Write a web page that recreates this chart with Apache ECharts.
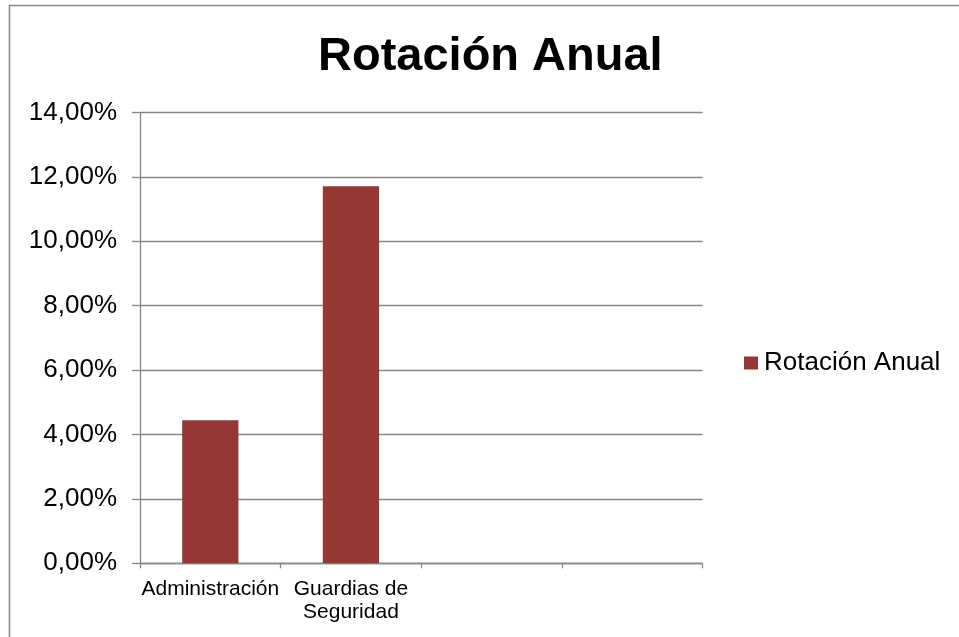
<!DOCTYPE html>
<html>
<head>
<meta charset="utf-8">
<script src="https://cdn.jsdelivr.net/npm/echarts@6/dist/echarts.min.js"></script>
<style>
  html, body { margin: 0; padding: 0; background: #ffffff; }
  #chart { width: 959px; height: 637px; }
</style>
</head>
<body>
<div id="chart"></div>
<script>
// Annual turnover by staff group (percent)
const categories = ['Administración', 'Guardias de\nSeguridad', '', ''];
const rotacionAnual = [4.44, 11.71, null, null];
const seriesName = 'Rotación Anual';
const chartTitle = 'Rotación Anual';

const FONT = '"Liberation Sans", Arial, sans-serif';
const AXIS_GRAY = '#868686';

const chart = echarts.init(document.getElementById('chart'), null, { renderer: 'canvas' });

chart.setOption({
  backgroundColor: '#ffffff',
  animation: false,
  title: {
    text: chartTitle,
    left: 318,
    top: 34,
    padding: 0,
    textStyle: { fontFamily: FONT, fontSize: 47, fontWeight: 'bold', color: '#000000' }
  },
  legend: {
    left: 744,
    top: 350,
    padding: 0,
    icon: 'rect',
    itemWidth: 14,
    itemHeight: 13,
    itemGap: 10,
    textStyle: { fontFamily: FONT, fontSize: 26, color: '#000000', padding: [0, 0, 0, 1] },
    data: [seriesName]
  },
  grid: { left: 140, right: 256.5, top: 112.5, bottom: 73.7, containLabel: false },
  xAxis: {
    type: 'category',
    data: categories,
    boundaryGap: true,
    axisLine: { show: true, lineStyle: { color: AXIS_GRAY, width: 1.3 } },
    axisTick: { show: true, length: 5, lineStyle: { color: AXIS_GRAY, width: 1.3 } },
    axisLabel: {
      interval: 0,
      margin: 14,
      fontFamily: FONT,
      fontSize: 21,
      lineHeight: 23,
      color: '#000000'
    }
  },
  yAxis: {
    type: 'value',
    min: 0,
    max: 14,
    interval: 2,
    axisLine: { show: true, lineStyle: { color: AXIS_GRAY, width: 1.3 } },
    axisTick: { show: true, length: 8, lineStyle: { color: AXIS_GRAY, width: 1.3 } },
    splitLine: { show: true, lineStyle: { color: AXIS_GRAY, width: 1.3 } },
    axisLabel: {
      margin: 23,
      fontFamily: FONT,
      fontSize: 26,
      color: '#000000',
      formatter: v => v.toFixed(2).replace('.', ',') + '%'
    }
  },
  series: [{
    name: seriesName,
    type: 'bar',
    data: rotacionAnual,
    barWidth: '40%',
    itemStyle: { color: '#953735' }
  }],
  graphic: [{
    type: 'rect',
    left: 7,
    top: 3,
    shape: { width: 1000, height: 700 },
    style: { fill: null, stroke: '#888888', lineWidth: 1.5 },
    silent: true,
    z: 100
  }]
});
</script>
</body>
</html>
